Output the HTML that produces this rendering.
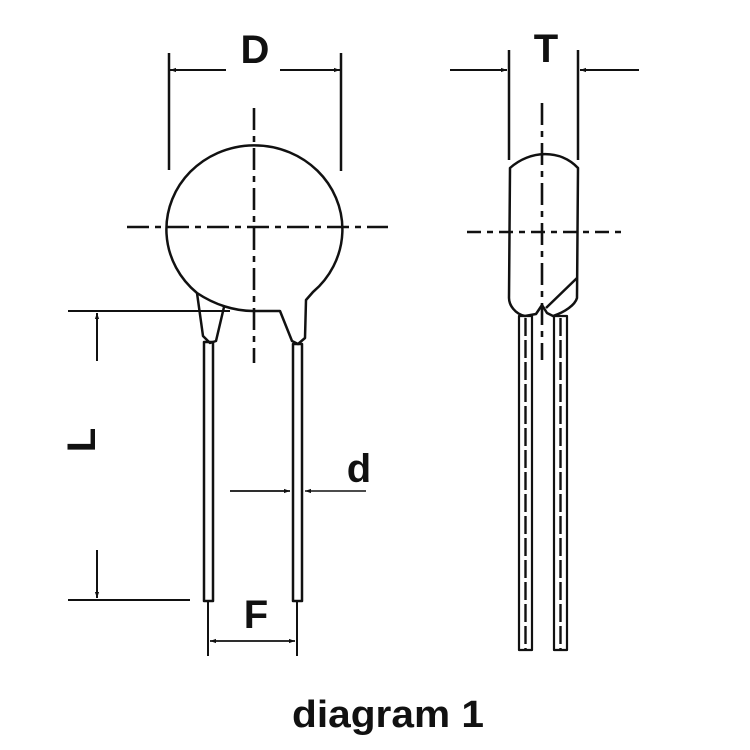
<!DOCTYPE html>
<html><head><style>html,body{margin:0;padding:0;background:#fff}svg{display:block}</style></head>
<body>
<svg width="750" height="750" viewBox="0 0 750 750" xmlns="http://www.w3.org/2000/svg">
<defs>
<marker id="a" viewBox="0 0 10 10" refX="10" refY="5" markerWidth="7" markerHeight="6" orient="auto-start-reverse" markerUnits="userSpaceOnUse"><path d="M0,1.5 L10,5 L0,8.5 z" fill="#111"/></marker>
</defs>
<g fill="none" stroke="#111" stroke-width="2.5" stroke-linejoin="round">
<path d="M197,293 A88,84 0 1 1 313,292 L306,300 L305,338 L298,344 L292,341 L280,311 L253,311 C235,311 215,305 197,293 Z"/>
<path d="M197,293 L203,336 L210,343 L216,341 L224,307"/>
<rect x="204" y="342" width="9" height="259"/>
<rect x="293" y="344" width="9" height="257"/>
<line x1="208" y1="601" x2="208" y2="656" stroke-width="2"/>
<line x1="297" y1="601" x2="297" y2="656" stroke-width="2"/>
<line x1="169" y1="53" x2="169" y2="170"/>
<line x1="341" y1="53" x2="341" y2="171"/>
<line x1="226" y1="70" x2="170" y2="70" stroke-width="2" marker-end="url(#a)"/>
<line x1="280" y1="70" x2="340" y2="70" stroke-width="2" marker-end="url(#a)"/>
<line x1="127" y1="227" x2="388" y2="227" stroke-width="2.6" stroke-dasharray="22,6,6,6"/>
<line x1="254" y1="108" x2="254" y2="363" stroke-width="2.6" stroke-dasharray="22,6,6,6"/>
<line x1="68" y1="311" x2="230" y2="311" stroke-width="2"/>
<line x1="68" y1="600" x2="190" y2="600" stroke-width="2"/>
<line x1="97" y1="361" x2="97" y2="313" stroke-width="2" marker-end="url(#a)"/>
<line x1="97" y1="550" x2="97" y2="598" stroke-width="2" marker-end="url(#a)"/>
<line x1="230" y1="491" x2="290" y2="491" stroke-width="1.8" marker-end="url(#a)"/>
<line x1="366" y1="491" x2="305" y2="491" stroke-width="1.6" marker-end="url(#a)"/>
<line x1="210" y1="641" x2="295" y2="641" stroke-width="1.8" marker-start="url(#a)" marker-end="url(#a)"/>
<path d="M510,168 C530,150 560,149 578,168 L577,298 C575,305 565,312 553,316 L547,313 L542,305 L536,314 L525,316 C515,314 509,305 509,298 Z"/>
<path d="M577,278 L546,308"/>
<rect x="519" y="316" width="13" height="334" stroke-width="2.2"/>
<rect x="554" y="316" width="13" height="334" stroke-width="2.2"/>
<line x1="525.5" y1="318" x2="525.5" y2="650" stroke-width="2.4" stroke-dasharray="18,4"/>
<line x1="560.5" y1="318" x2="560.5" y2="650" stroke-width="2.4" stroke-dasharray="18,4"/>
<line x1="509" y1="50" x2="509" y2="160"/>
<line x1="578" y1="50" x2="578" y2="160"/>
<line x1="450" y1="70" x2="507" y2="70" stroke-width="2" marker-end="url(#a)"/>
<line x1="639" y1="70" x2="580" y2="70" stroke-width="2" marker-end="url(#a)"/>
<line x1="467" y1="232" x2="624" y2="232" stroke-width="2.6" stroke-dasharray="14,6,6,6"/>
<line x1="542" y1="103" x2="542" y2="360" stroke-width="2.6" stroke-dasharray="22,6,6,6"/>
</g>
<g font-family="Liberation Sans, sans-serif" font-weight="bold" fill="#111" text-anchor="middle">
<text x="255" y="63" font-size="40">D</text>
<text x="546" y="62" font-size="40">T</text>
<text x="359" y="482" font-size="40">d</text>
<text x="256" y="628" font-size="40">F</text>
<text x="0" y="0" font-size="40" transform="translate(95,440) rotate(-90)">L</text>
<text x="388" y="727" font-size="38" textLength="192" lengthAdjust="spacingAndGlyphs" style="font-weight:600">diagram 1</text>
</g>
</svg>
</body></html>
